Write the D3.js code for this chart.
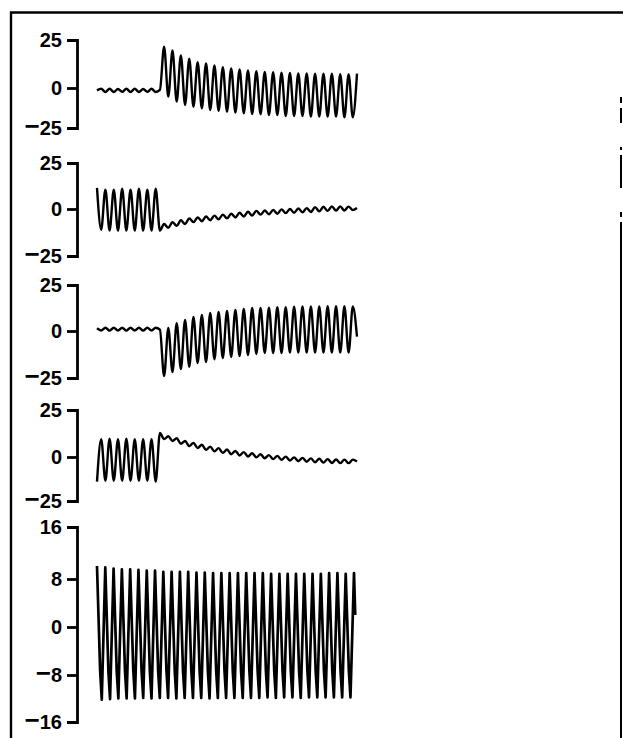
<!DOCTYPE html>
<html>
<head>
<meta charset="utf-8">
<script src="https://cdn.jsdelivr.net/npm/d3@7/dist/d3.min.js"></script>
<style>
  html, body { margin: 0; padding: 0; background: #fff; }
  svg { display: block; }
</style>
</head>
<body>
<script>
// Tick values of the four pressure panels and the flow panel
const ticksPressure = [-25, 0, 25];
const ticksFlow = [-16, -8, 0, 8, 16];

// Traces 1-4: successive extrema, one value per half cycle (index = half-cycle number)
const trace1 = [
  -1.5, -0.5, -2.5, -0.5, -2.5, -0.6, -2.4, -0.5, -2.5, -0.5, -2.5, -0.6, -2.4, -0.5, -2.5, -1.2,
  21.5, -5.4, 19.5, -8.5, 17, -10.6, 15.3, -11.7, 13.5, -12.7, 12.8, -13.8, 11.7, -14.2,
  10.8, -14.8, 10.2, -15.4, 9.7, -15.8, 9.2, -16.3, 8.8, -16.4, 8.3, -16.9, 8.2, -16.9,
  8, -17.5, 7.8, -17.5, 7.6, -17.5, 7.6, -17.9, 7.5, -17.9, 7.5, -17.9, 7.5, -17.9,
  7.2, -18.3, 7.2, -18.3, 7.5
];
const trace2 = [
  11.5, -11, 10.5, -11.5, 10.5, -11.5, 11, -11.5, 10.5, -11.5, 11, -11.5, 10.5, -11.5, 11, -11.5,
  -8, -10, -7, -9, -6, -8, -5, -7, -4.5, -6.5, -4, -6, -3.5, -5.5, -3, -5,
  -2.5, -4.5, -2, -4, -1.5, -3.5, -1, -3, -0.8, -2.8, -0.5, -2.5, -0.2, -2.2,
  0, -2, 0.3, -1.8, 0.5, -1.6, 1, -1.2, 1.2, -1, 1.4, -0.8, 1.4, -0.8, 1.3, -0.6, 0.5
];
const trace3 = [
  1.5, 0.3, 1.8, 0.2, 1.8, 0.3, 1.8, 0.2, 1.8, 0.3, 1.8, 0.2, 1.8, 0.3, 1.8, 0.8,
  -24, 1.6, -21.8, 4.3, -20.2, 6, -19, 7.6, -17, 8.7, -16.5, 9.8, -15, 10.3,
  -14.4, 10.9, -13.8, 11.4, -13.3, 12, -12.8, 12.5, -12.2, 12.5, -11.7, 12.7,
  -11.7, 13, -11.7, 13, -11.5, 13.2, -11.5, 13.3, -11.5, 13.3, -11.5, 13.3,
  -11.5, 13.5, -11.5, 13.5, -11.5, 13.5, -11.5, 13.3, -3
];
const trace4 = [
  -14, 9.5, -13.5, 9.8, -13.5, 9.5, -13.5, 9.8, -13.5, 9.5, -13.5, 9.5, -13.5, 9.5, -14,
  12.8,
  9.5, 11, 8.5, 10, 7, 8.5, 5.8, 7.5, 4.8, 6.5, 3.8, 5.5, 3, 4.7, 2.2, 4,
  1.5, 3.2, 0.8, 2.6, 0.3, 2, -0.2, 1.5, -0.7, 1, -1.2, 0.6, -1.6, 0.2,
  -2, -0.2, -2.4, -0.5, -2.7, -0.8, -3, -1, -3.2, -1.2, -3.4, -1.4, -3.5, -1.5, -3.5, -1.5, -2.5
];

// Trace 5: per cycle a peak, a shoulder on the way down and a trough
const trace5Peaks = [
  10, 9.8, 9.6, 9.5, 9.5, 9.4, 9.3, 9.3, 9.1, 9.1, 9.1, 9.1, 9, 9, 8.9, 8.9,
  8.9, 8.9, 8.9, 8.9, 8.9, 8.8, 8.8, 8.8, 8.8, 8.8, 8.8, 8.8, 8.9, 8.9, 8.8, 8.9
];
const trace5Shoulders = [
  -7.2, -7.4, -7.3, -7.3, -7.2, -7.3, -7.4, -7.3, -7.2, -7.3, -7.3, -7.2, -7.3, -7.4, -7.3, -7.2,
  -7.3, -7.3, -7.2, -7.3, -7.4, -7.3, -7.2, -7.3, -7.3, -7.2, -7.3, -7.3, -7.2, -7.3, -7.2
];
const trace5Troughs = [
  -12.2, -12.1, -12, -12, -12, -11.9, -12, -11.9, -11.9, -12, -11.9, -11.9, -11.9, -12, -11.9, -11.9,
  -11.9, -11.9, -11.9, -11.9, -11.8, -11.9, -11.8, -11.8, -11.9, -11.8, -11.8, -11.8, -11.8, -11.8, -11.8
];
const trace5End = 2;
// half-cycle offsets of peak, shoulder and trough inside one cycle
const cyclePhase = [0, 0.75, 1.15];

const W = 623, H = 738;
const axisX = 77;

const svg = d3.select("body").append("svg")
  .attr("width", W).attr("height", H)
  .attr("viewBox", `0 0 ${W} ${H}`);

svg.append("rect").attr("width", W).attr("height", H).attr("fill", "#fff");

// frame
const frame = svg.append("g").attr("stroke", "#000").attr("fill", "none");
frame.append("path").attr("d", `M11,${H}V12.5H${W}`).attr("stroke-width", 2.4);
[[97, 103], [108, 123], [147, 150], [155, 188], [212, 217], [222, H]].forEach(([a, b]) => {
  frame.append("line").attr("x1", 621).attr("x2", 621).attr("y1", a).attr("y2", b)
    .attr("stroke-width", 2);
});

function drawAxis(y, ticks) {
  const g = svg.append("g").attr("transform", `translate(${axisX},0)`)
    .call(d3.axisLeft(y).tickValues(ticks).tickSize(10).tickPadding(5));
  g.attr("font-family", "'Liberation Sans', Arial, sans-serif")
    .attr("font-size", 20).attr("font-weight", "bold");
  g.select(".domain").attr("stroke", "#000").attr("stroke-width", 2.8);
  g.selectAll(".tick line").attr("stroke", "#000").attr("stroke-width", 2.8);
  // labels: negative values get a long minus sign
  g.selectAll(".tick text").attr("fill", "#000").each(function (d) {
    const t = d3.select(this).text(null);
    if (d < 0) t.append("tspan").attr("font-size", 26).text("\u2212");
    t.append("tspan").text(Math.abs(d));
  });
}

const xHalf = d3.scaleLinear().domain([0, 62]).range([97, 357]);
const xFlow = d3.scaleLinear().domain([0, 62]).range([97, 354]);

const panels = [
  { data: trace1, y: d3.scaleLinear().domain([-25, 0, 25]).range([128, 88, 40]) },
  { data: trace2, y: d3.scaleLinear().domain([-25, 0, 25]).range([256, 209, 163]) },
  { data: trace3, y: d3.scaleLinear().domain([-25, 0, 25]).range([378, 331, 285]) },
  { data: trace4, y: d3.scaleLinear().domain([-25, 0, 25]).range([501, 457, 410]) }
];

panels.forEach(p => {
  drawAxis(p.y, ticksPressure);
  const line = d3.line()
    .x((d, i) => xHalf(i))
    .y(d => p.y(d))
    .curve(d3.curveMonotoneX);
  svg.append("path").datum(p.data)
    .attr("fill", "none").attr("stroke", "#000")
    .attr("stroke-width", 2.4).attr("stroke-linejoin", "round")
    .attr("d", line);
});

// flow panel
const yFlow = d3.scaleLinear().domain([-16, -8, 0, 8, 16]).range([722, 675, 627, 579, 527]);
drawAxis(yFlow, ticksFlow);

const flowPts = [];
trace5Peaks.forEach((pk, k) => {
  flowPts.push([2 * k + cyclePhase[0], pk]);
  if (k < trace5Shoulders.length) {
    flowPts.push([2 * k + cyclePhase[1], trace5Shoulders[k]]);
    flowPts.push([2 * k + cyclePhase[2], trace5Troughs[k]]);
  }
});
flowPts.push([2 * (trace5Peaks.length - 1) + 0.3, trace5End]);

svg.append("path").datum(flowPts)
  .attr("fill", "none").attr("stroke", "#000")
  .attr("stroke-width", 2.7).attr("stroke-linejoin", "round")
  .attr("d", d3.line().x(d => xFlow(d[0])).y(d => yFlow(d[1])));
</script>
</body>
</html>
